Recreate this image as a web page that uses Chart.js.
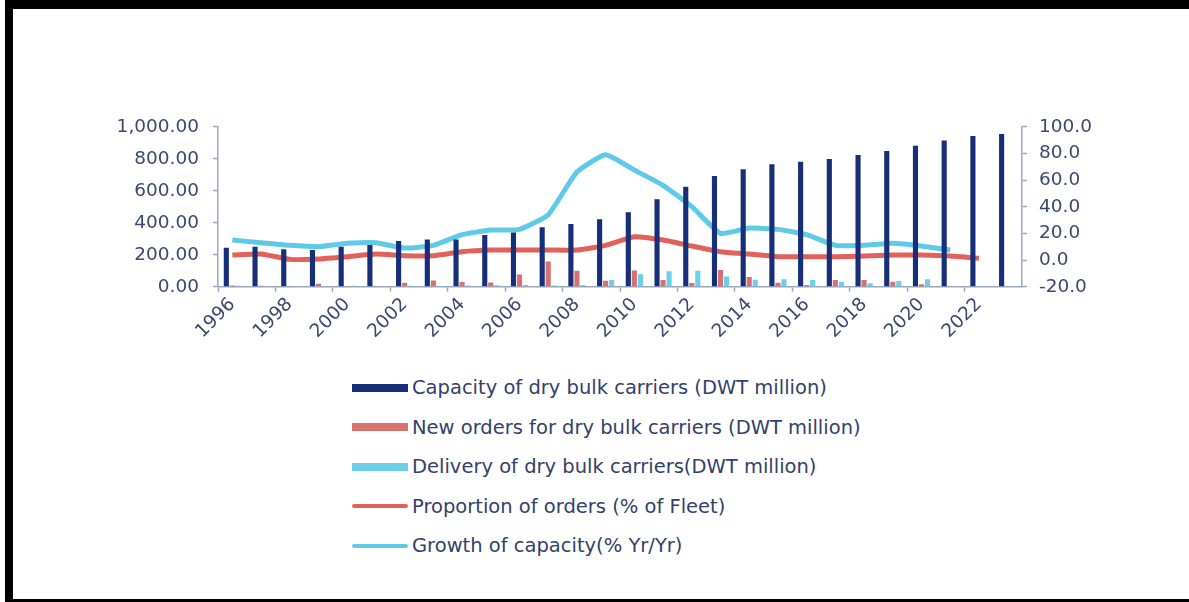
<!DOCTYPE html>
<html>
<head>
<meta charset="utf-8">
<script src="https://cdn.jsdelivr.net/npm/chart.js@4/dist/chart.umd.min.js"></script>
<style>
  html, body { margin: 0; padding: 0; background: #fff; }
  body { width: 1189px; height: 602px; position: relative; overflow: hidden; font-family: "DejaVu Sans", sans-serif; }
  .edge { position: absolute; background: #000; }
  #wrap { position: absolute; left: 0; top: 0; width: 1189px; height: 360px; }
  #legend { position: absolute; left: 352px; top: 368px; }
  #legend .item { height: 39.5px; display: flex; align-items: center; color: #34416c; font-size: 19.5px; white-space: nowrap; }
  #legend .swatch { display: inline-block; width: 56px; margin-right: 4px; }
  #legend .swatch.bar { height: 8px; }
  #legend .swatch.line { height: 4px; border-radius: 2px; }
</style>
</head>
<body>
<div class="edge" style="left:6px;top:0;width:1183px;height:9px"></div>
<div class="edge" style="left:5px;top:0;width:8px;height:602px"></div>
<div class="edge" style="left:5px;top:599px;width:1184px;height:3px"></div>
<div id="wrap"><canvas id="fleetChart"></canvas></div>
<div id="legend"></div>
<script>
const years = ['1996', '1997', '1998', '1999', '2000', '2001', '2002', '2003', '2004', '2005',
  '2006', '2007', '2008', '2009', '2010', '2011', '2012', '2013', '2014', '2015',
  '2016', '2017', '2018', '2019', '2020', '2021', '2022', '2023'];

// DWT million
const capacity = [244, 250, 234, 229, 250, 260, 285, 295, 295, 323, 338, 371, 392, 421,
  465, 546, 625, 692, 734, 765, 781, 798, 823, 848, 881, 913, 942, 954];
const newOrders = [8, 6, 4, 18, 5, 4, 25, 38, 30, 27, 76, 158, 100, 37, 102, 42, 23, 104,
  60, 25, 10, 42, 42, 31, 15, 3, null, null];
const delivery = [6, 5, 4, 5, 6, 5, 6, 5, 7, 9, 10, 8, 10, 42, 78, 97, 99, 63, 44, 46,
  42, 31, 21, 35, 46, 3, null, null];

// percent
const orderShare = [3.75, 4.5, 0.5, 0.75, 2.5, 4.5, 3.25, 3.25, 6.25, 7.5, 7.5, 7.5, 7.5,
  11, 17.5, 15, 10.5, 6.25, 4.5, 2.5, 2.5, 2.5, 3, 3.75, 3.75, 3, 1.25, null];
const capacityGrowth = [15, 13, 11, 10, 12.5, 13, 9, 11, 19, 22.5, 23, 34, 66, 79, 67.5, 56,
  40, 20, 24, 23, 19, 11, 11, 12.5, 10.5, 7.5, null, null];

const axisColor = '#9aa8c0';
const labelColor = '#3b4870';
const tickFont = { family: 'DejaVu Sans', size: 18.5 };

// bars get the lower order so they sit on top of the lines
const chart = new Chart(document.getElementById('fleetChart'), {
  data: {
    labels: years,
    datasets: [
      { type: 'bar', label: 'Capacity of dry bulk carriers (DWT million)', data: capacity, order: 1,
        backgroundColor: '#172f78', yAxisID: 'y', categoryPercentage: 0.63, barPercentage: 0.85 },
      { type: 'bar', label: 'New orders for dry bulk carriers (DWT million)', data: newOrders, order: 1,
        backgroundColor: '#d8716d', yAxisID: 'y', categoryPercentage: 0.63, barPercentage: 0.85 },
      { type: 'bar', label: 'Delivery of dry bulk carriers(DWT million)', data: delivery, order: 1,
        backgroundColor: '#6ccfe8', yAxisID: 'y', categoryPercentage: 0.63, barPercentage: 0.85 },
      { type: 'line', label: 'Proportion of orders (% of Fleet)', data: orderShare, order: 2,
        borderColor: '#e2625b', borderWidth: 5, pointRadius: 0, tension: 0.15, yAxisID: 'y1' },
      { type: 'line', label: 'Growth of capacity(% Yr/Yr)', data: capacityGrowth, order: 2,
        borderColor: '#5fc9e8', borderWidth: 5, pointRadius: 0, tension: 0.15, yAxisID: 'y1' }
    ]
  },
  options: {
    responsive: true,
    maintainAspectRatio: false,
    animation: false,
    layout: { padding: { top: 126.7, right: 67, bottom: 0, left: 0 } },
    plugins: { legend: { display: false }, tooltip: { enabled: false } },
    scales: {
      x: {
        offset: true,
        afterFit: s => { s.height = 73.3; },
        border: { color: axisColor, width: 1.5 },
        grid: {
          drawOnChartArea: false,
          tickLength: 5,
          tickWidth: 1.5,
          tickColor: ctx => (ctx.index % 2 === 0 ? axisColor : 'rgba(0,0,0,0)')
        },
        ticks: {
          autoSkip: false,
          minRotation: 45,
          maxRotation: 45,
          padding: 2,
          color: labelColor,
          font: tickFont,
          callback: (v, i) => (i % 2 === 0 ? years[i] : '')
        }
      },
      y: {
        position: 'left',
        min: 0,
        max: 1000,
        afterFit: s => { s.width = 218; },
        border: { color: axisColor, width: 1.5 },
        grid: { drawOnChartArea: false, tickLength: 5, tickWidth: 1.5, tickColor: axisColor },
        ticks: {
          stepSize: 200,
          padding: 14,
          color: labelColor,
          font: tickFont,
          callback: v => v.toLocaleString('en-US', { minimumFractionDigits: 2, maximumFractionDigits: 2 })
        }
      },
      y1: {
        position: 'right',
        min: -20,
        max: 100,
        afterFit: s => { s.width = 100; },
        border: { color: axisColor, width: 1.5 },
        grid: { drawOnChartArea: false, tickLength: 5, tickWidth: 1.5, tickColor: axisColor },
        ticks: {
          stepSize: 20,
          padding: 12,
          color: labelColor,
          font: tickFont,
          callback: v => v.toFixed(1)
        }
      }
    }
  }
});

// vertical legend under the chart, built from the datasets
const legendBox = document.getElementById('legend');
chart.data.datasets.forEach(ds => {
  const item = document.createElement('div');
  item.className = 'item';
  const swatch = document.createElement('span');
  const isLine = ds.type === 'line';
  swatch.className = 'swatch ' + (isLine ? 'line' : 'bar');
  swatch.style.background = isLine ? ds.borderColor : ds.backgroundColor;
  item.appendChild(swatch);
  item.appendChild(document.createTextNode(ds.label));
  legendBox.appendChild(item);
});
</script>
</body>
</html>
